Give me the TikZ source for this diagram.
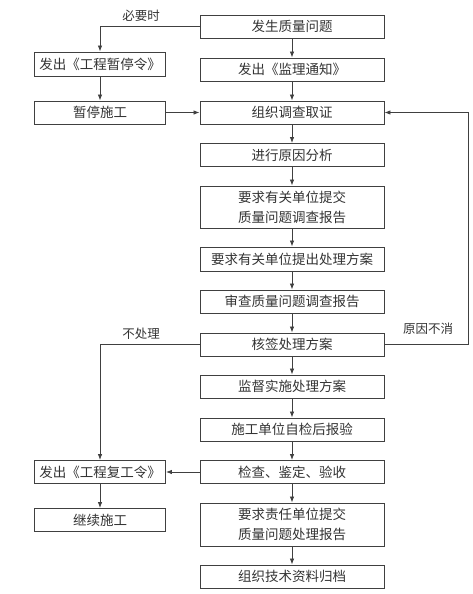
\documentclass[tikz,border=0pt]{standalone}
\usepackage{fontspec}
\newfontfamily\cjk{Noto Sans CJK SC}
\usetikzlibrary{arrows.meta}
\begin{document}
\begin{tikzpicture}[x=1pt,y=-1pt,
 box/.style={draw=black!75, line width=0.9pt, minimum width=184pt, minimum height=23pt, inner sep=0pt, font=\cjk\fontsize{13.5}{20}\selectfont, text=black!80, align=center},
 lbox/.style={box, minimum width=131pt},
 arr/.style={draw=black!75, line width=0.8pt, -{Latex[length=6pt,width=4.5pt]}},
 lab/.style={font=\cjk\fontsize{12.5}{14}\selectfont, text=black!80}]
\useasboundingbox (0,0) rectangle (473,594);
\node[box] (b1) at (292,26.5) {发生质量问题};
\node[box] (b2) at (292,69.5) {发出《监理通知》};
\node[box] (b3) at (292,112.5) {组织调查取证};
\node[box] (b4) at (292,155) {进行原因分析};
\node[box, minimum height=42pt] (b5) at (292,207) {要求有关单位提交\\质量问题调查报告};
\node[box, minimum height=24pt] (b6) at (292,259) {要求有关单位提出处理方案};
\node[box] (b7) at (292,301.5) {审查质量问题调查报告};
\node[box] (b8) at (292,344.5) {核签处理方案};
\node[box] (b9) at (292,386.5) {监督实施处理方案};
\node[box] (b10) at (292,429.5) {施工单位自检后报验};
\node[box] (b11) at (292,472) {检查、鉴定、验收};
\node[box, minimum height=43pt] (b12) at (292,524.5) {要求责任单位提交\\质量问题处理报告};
\node[box] (b13) at (292,576.5) {组织技术资料归档};
\node[lbox, minimum height=24pt] (l1) at (100,64) {发出《工程暂停令》};
\node[lbox] (l2) at (100,112.5) {暂停施工};
\node[lbox] (l3) at (100,472) {发出《工程复工令》};
\node[lbox] (l4) at (100,520) {继续施工};
\foreach \a/\b in {b1/b2,b2/b3,b3/b4,b4/b5,b5/b6,b6/b7,b7/b8,b8/b9,b9/b10,b10/b11,b11/b12,b12/b13}
  \draw[arr] (\a) -- (\b);
\draw[arr] (b1.west) -| (l1.north);
\draw[arr] (l1) -- (l2);
\draw[arr] (l2) -- (b3);
\coordinate (rc) at (468,344.5);
\draw[arr] (b8.east) -- (rc) |- (b3.east);
\draw[arr] (b8.west) -| (l3.north);
\draw[arr] (b11) -- (l3);
\draw[arr] (l3) -- (l4);
\node[lab] (t1) at (141,16) {必要时};
\node[lab] (t2) at (428,329) {原因不消};
\node[lab] (t3) at (141,334) {不处理};
\end{tikzpicture}
\end{document}
